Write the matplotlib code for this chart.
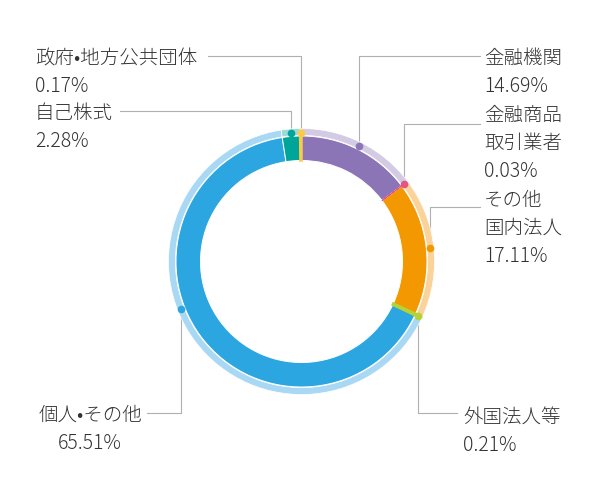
import matplotlib.pyplot as plt
from matplotlib.patches import Wedge
import numpy as np

plt.rcParams['font.family'] = ['Noto Sans CJK JP', 'DejaVu Sans']

# shareholder categories, clockwise from the top
names = ['金融機関', '金融商品\n取引業者', 'その他\n国内法人', '外国法人等',
         '個人•その他', '自己株式', '政府•地方公共団体']
shares = [14.69, 0.03, 17.11, 0.21, 65.51, 2.28, 0.17]
colors = ['#8b75b6', '#e95383', '#f39800', '#b4d334', '#2ca6e0', '#00a59a', '#fcc94a']
light = ['#d3cae3', '#f6bccd', '#fad39b', '#e1ee9e', '#a8d8f3', '#9bdad5', '#fde6a3']

# label layout (pixel coords, y down): elbow y, line end x, text x, align, text top
label_pos = [
    (56, 480, 484, 'left', 48),
    (124, 480, 484, 'left', 105),
    (207, 480, 484, 'left', 190),
    (413, 457, 463, 'left', 407),
    (413, 147, 90, 'center', 405),
    (111, 120, 35, 'left', 103),
    (56, 208, 35, 'left', 48),
]
anchor_frac = [0.5, 0.5, 0.5, 0.5, 0.565, 0.5, 0.5]

fig = plt.figure(figsize=(6, 5), dpi=100)
ax = fig.add_axes([0, 0, 1, 1])
ax.set_xlim(0, 600)
ax.set_ylim(500, 0)
ax.axis('off')

cx, cy = 301.5, 261.5
r_in, r_mid, r_out = 101, 125.5, 133

vals = np.array(shares) / sum(shares)
starts = np.concatenate([[0], np.cumsum(vals)[:-1]])

for i, (s, v) in enumerate(zip(starts, vals)):
    t1 = -90 + 360 * s
    t2 = -90 + 360 * (s + v)
    small = v < 0.005
    ec = colors[i] if small else 'white'
    lw = (1.8 if v > 0.001 else 0.6) if small else 0.7
    ax.add_patch(Wedge((cx, cy), r_mid, t1, t2, width=r_mid - r_in,
                       facecolor=colors[i], edgecolor=ec, linewidth=lw,
                       zorder=3 if small else 2))
    ax.add_patch(Wedge((cx, cy), r_out, t1, t2, width=r_out - r_mid - 0.6,
                       facecolor=light[i], edgecolor=light[i] if small else 'white',
                       linewidth=0.5, zorder=2))

for i, (s, v) in enumerate(zip(starts, vals)):
    th = np.radians(-90 + 360 * (s + v * anchor_frac[i]))
    dx = cx + 129 * np.cos(th)
    dy = cy + 129 * np.sin(th)
    ey, lx, tx, ha, ty = label_pos[i]
    ax.plot([dx, dx, lx], [dy, ey, ey], color='#b0b0b0', lw=0.8, zorder=1)
    ax.plot(dx, dy, 'o', ms=5.5, color=colors[i], mec=colors[i], mew=0, zorder=4)
    ax.text(tx, ty, names[i] + '\n' + f'{shares[i]:.2f}%', ha=ha, va='top',
            fontsize=14, fontweight='light', color='#333333',
            linespacing=1.45, multialignment=ha)

fig.savefig('out.png', dpi=100)
